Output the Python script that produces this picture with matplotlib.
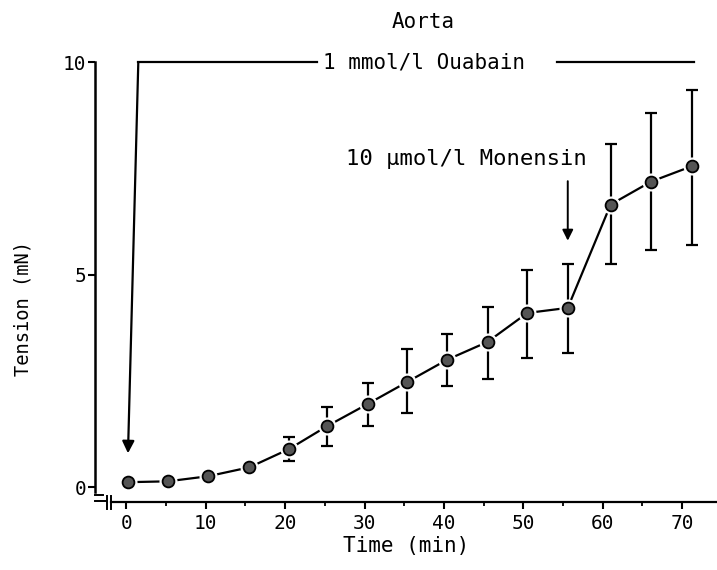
import matplotlib
matplotlib.use('Agg')
import matplotlib.pyplot as plt

# ── Data ─────────────────────────────────────────────────────────────────────
time_min = [0.2, 5.2, 10.3, 15.5, 20.5, 25.3, 30.4, 35.4, 40.4, 45.5, 50.5, 55.6, 61.0, 66.1, 71.2]
tension = [0.12, 0.14, 0.26, 0.47, 0.90, 1.44, 1.96, 2.48, 3.00, 3.42, 4.10, 4.22, 6.65, 7.19, 7.55]
err_low = [0, 0, 0, 0, 0.29, 0.47, 0.52, 0.74, 0.62, 0.87, 1.06, 1.06, 1.39, 1.62, 1.84]
err_high = [0, 0, 0, 0, 0.28, 0.45, 0.49, 0.77, 0.60, 0.83, 1.02, 1.04, 1.42, 1.61, 1.79]

x_ticks = [0, 10, 20, 30, 40, 50, 60, 70]
y_ticks = [0, 5, 10]

ouabain_start = 1.5     # min, where the ouabain bracket begins
monensin_time = 55.6    # min, monensin addition

plt.rcParams['font.family'] = 'DejaVu Sans Mono'

# ── Figure ───────────────────────────────────────────────────────────────────
fig = plt.figure(figsize=(7.17, 5.70), dpi=100)
ax = fig.add_axes([0.132, 0.119, 0.868, 0.772])
ax.set_xlim(-4.0, 74.4)
ax.set_ylim(-0.35, 10.0)

# error bars + connecting line + markers
ax.errorbar(time_min, tension, yerr=[err_low, err_high], fmt='none',
            ecolor='black', elinewidth=1.6, capsize=4.5, capthick=1.6, zorder=2)
ax.plot(time_min, tension, color='black', linewidth=1.6, zorder=3)
ax.plot(time_min, tension, 'o', markersize=12, markerfacecolor='white',
        markeredgecolor='white', zorder=4)
ax.plot(time_min, tension, 'o', markersize=8.5, markerfacecolor='#555555',
        markeredgecolor='black', markeredgewidth=1.3, zorder=5)

# ── Axes styling ─────────────────────────────────────────────────────────────
for s in ['top', 'right']:
    ax.spines[s].set_visible(False)
ax.spines['left'].set_linewidth(1.8)
ax.spines['bottom'].set_linewidth(1.6)
ax.spines['left'].set_bounds(-0.1, 10)
ax.spines['bottom'].set_bounds(-2.0, 74.4)

ax.set_xticks(x_ticks)
ax.set_xticks([5, 15, 25, 35, 45, 55, 65], minor=True)
ax.set_yticks(y_ticks)
ax.tick_params(axis='both', direction='out', width=1.5, length=5, labelsize=14)
ax.tick_params(axis='x', which='minor', direction='out', width=1.3, length=3)
ax.tick_params(axis='y', pad=1)

ax.set_xlabel('Time (min)', fontsize=15, labelpad=2)
ax.set_ylabel('Tension (mN)', fontsize=13.5)
ax.yaxis.set_label_coords(-0.10, 0.44)

# axis break marks
ax.plot([-4.0, -3.0], [-0.18, -0.18], color='black', lw=1.4, clip_on=False)
ax.plot([-4.0, -2.6], [-0.32, -0.32], color='black', lw=1.4, clip_on=False)
for bx in [-2.5, -2.0]:
    ax.plot([bx, bx], [-0.5, -0.2], color='black', lw=1.4, clip_on=False)

# ── Annotations ──────────────────────────────────────────────────────────────
ax.annotate('', xy=(0.2, 0.8), xytext=(ouabain_start, 10.0),
            arrowprops=dict(arrowstyle='-|>', color='black', lw=1.6,
                            mutation_scale=18, shrinkA=0, shrinkB=0),
            annotation_clip=False)
ax.plot([ouabain_start, 24.0], [10, 10], color='black', lw=1.6, clip_on=False)
ax.text(24.8, 10, '1 mmol/l Ouabain', fontsize=15, ha='left', va='center')
ax.plot([54.3, 71.5], [10, 10], color='black', lw=1.6, clip_on=False)

ax.text(42.8, 7.72, '10 µmol/l Monensin', fontsize=16, ha='center', va='center')
ax.annotate('', xy=(monensin_time, 5.8), xytext=(monensin_time, 7.2),
            arrowprops=dict(arrowstyle='-|>', color='black', lw=1.4,
                            mutation_scale=16, shrinkA=0, shrinkB=0))

fig.text(0.59, 0.962, 'Aorta', fontsize=15, ha='center', va='center')

fig.savefig('out.png', dpi=100)
